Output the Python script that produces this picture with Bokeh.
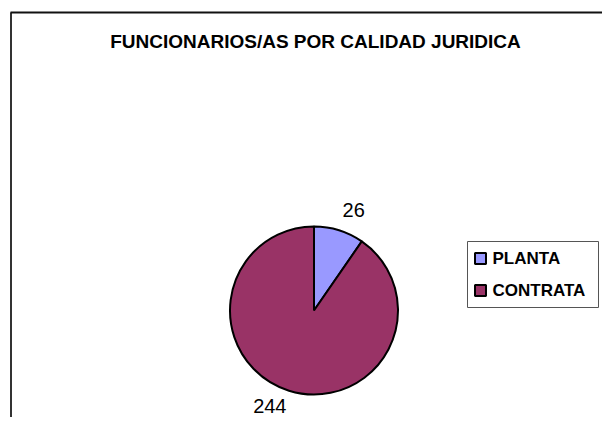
import numpy as np
from bokeh.plotting import figure
from bokeh.models import Range1d, ColumnDataSource
from bokeh.core.properties import value
from bokeh.embed import file_html
from bokeh.resources import INLINE

title = "FUNCIONARIOS/AS POR CALIDAD JURIDICA"
categories = ["PLANTA", "CONTRATA"]
counts = [26, 244]
colors = ["#9999FF", "#993366"]

FONT = "Liberation Sans"


def Y(py):
    return 417 - py


p = figure(width=602, height=417, x_range=Range1d(0, 602), y_range=Range1d(0, 417),
           output_backend="svg", toolbar_location=None, min_border=0,
           x_axis_location=None, y_axis_location=None)
p.grid.visible = False
p.outline_line_color = None
p.background_fill_color = "white"
p.border_fill_color = "white"

# chart area frame (continues beyond the picture)
p.line([10.5, 10.5], [Y(430), Y(12)], line_color="#333333", line_width=2)
p.line([10, 615], [Y(12), Y(12)], line_color="#111111", line_width=2)

# title
p.text(x=[315], y=[Y(41)], text=[title], text_font=value(FONT), text_font_style="bold",
       text_font_size="19px", text_align="center", text_baseline="middle", text_color="black")

# pie
cx, cy, r = 313.5, Y(310), 84
vals = np.array(counts, dtype=float)
cum = np.concatenate([[0], np.cumsum(vals / vals.sum())])
start = np.pi / 2 - cum[1:] * 2 * np.pi
end = np.pi / 2 - cum[:-1] * 2 * np.pi
src = ColumnDataSource(dict(start=start, end=end, color=colors, cat=categories))
p.wedge(x=cx, y=cy, radius=r, radius_units="screen", start_angle="start", end_angle="end",
        direction="anticlock", fill_color="color", line_color="black", line_width=2, source=src)

# data labels
mid = (start + end) / 2
labels = [str(c) for c in counts]
lx = cx + 103 * np.cos(mid) + np.sign(np.cos(mid)) * 4.5 * np.array([len(s) for s in labels])
ly = cy + 103 * np.sin(mid) + 2.5
p.text(x=lx, y=ly, text=labels, text_font=value(FONT), text_font_size="20px",
       text_align="center", text_baseline="middle", text_color="black")

# legend
p.quad(left=[467], right=[598], top=[Y(241)], bottom=[Y(307)], fill_color="white",
       line_color="#555555", line_width=1)
ley = [Y(258), Y(290)]
p.rect(x=[480, 480], y=ley, width=11, height=11, width_units="screen", height_units="screen",
       fill_color=colors, line_color="black", line_width=2)
p.text(x=[492, 492], y=ley, text=categories, text_font=value(FONT), text_font_style="bold",
       text_font_size="17px", text_align="left", text_baseline="middle", text_color="black")

open("out.html", "w").write(file_html(p, INLINE))
